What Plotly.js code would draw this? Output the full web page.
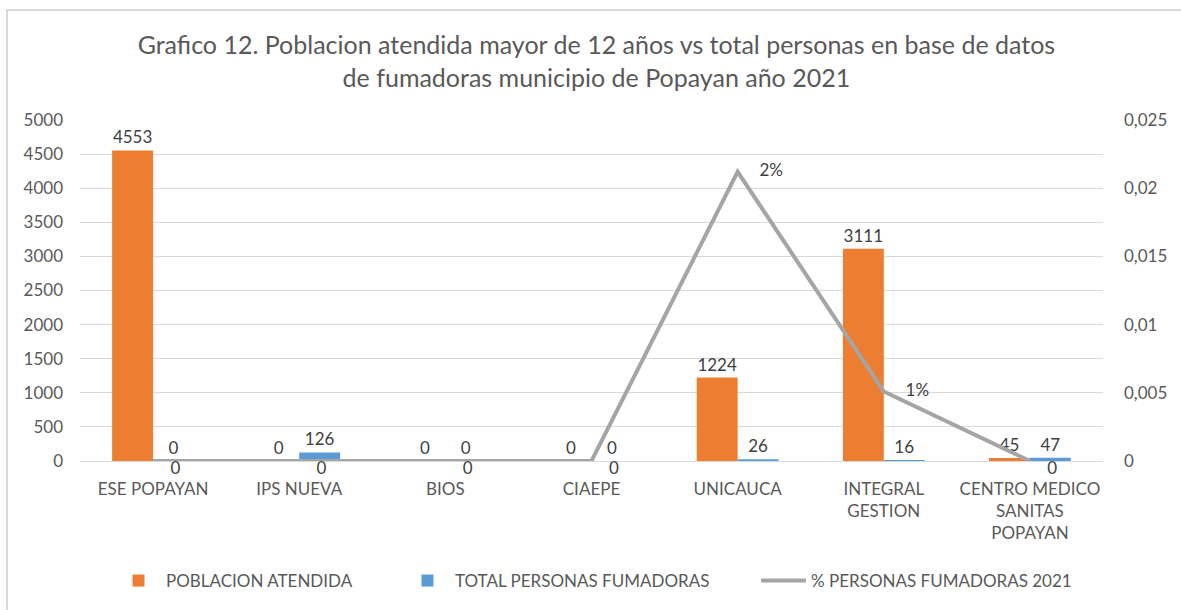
<!DOCTYPE html>
<html>
<head>
<meta charset="utf-8">
<script src="https://cdn.plot.ly/plotly-3.0.1.min.js"></script>
<style>
  html, body { margin: 0; padding: 0; background: #ffffff; }
  #frame { position: absolute; left: 6px; top: 9px; width: 1300px; height: 700px; border: 2px solid #d9d9d9; box-sizing: border-box; }
  #chart { position: absolute; left: 0; top: 0; width: 1181px; height: 610px; }
</style>
</head>
<body>
<div id="frame"></div>
<div id="chart"></div>
<script>
const categories = ['ESE POPAYAN', 'IPS NUEVA', 'BIOS', 'CIAEPE', 'UNICAUCA', 'INTEGRAL<br>GESTION', 'CENTRO MEDICO<br>SANITAS<br>POPAYAN'];
const poblacionAtendida = [4553, 0, 0, 0, 1224, 3111, 45];
const totalFumadoras = [0, 126, 0, 0, 26, 16, 47];
const pctFumadoras = [0, 0, 0, 0, 0.0212, 0.0051, 0];
const pctLabels = ['0', '0', '0', '0', '2%', '1%', '0'];
const leftTicks = [0, 500, 1000, 1500, 2000, 2500, 3000, 3500, 4000, 4500, 5000];
const rightTickVals = [0, 0.005, 0.01, 0.015, 0.02, 0.025];
const rightTickText = ['0', '0,005', '0,01', '0,015', '0,02', '0,025'];

const FONT = 'Lato, "Open Sans", sans-serif';
const GRAY = '#595959';
const LABEL = '#404040';
const FS = 17;
const NB = '\u00a0';

const traces = [
  {
    type: 'bar', name: 'POBLACION ATENDIDA', x: categories, y: poblacionAtendida,
    marker: { color: '#ed7d31' }, legend: 'legend',
    text: poblacionAtendida.map(String), textposition: 'outside', cliponaxis: false,
    textfont: { family: FONT, size: FS, color: LABEL },
    hoverinfo: 'x+y'
  },
  {
    type: 'bar', name: 'TOTAL PERSONAS FUMADORAS', x: categories, y: totalFumadoras,
    marker: { color: '#5b9bd5' }, legend: 'legend2',
    text: totalFumadoras.map(String), textposition: 'outside', cliponaxis: false,
    textfont: { family: FONT, size: FS, color: LABEL },
    hoverinfo: 'x+y'
  },
  {
    type: 'scatter', mode: 'lines+text', name: '% PERSONAS FUMADORAS 2021',
    x: categories, y: pctFumadoras, yaxis: 'y2', legend: 'legend3',
    line: { color: '#a5a5a5', width: 4 },
    text: pctLabels.map(t => (t === '0' ? NB.repeat(4) : NB.repeat(5)) + t),
    textposition: pctLabels.map(t => t === '0' ? 'bottom right' : 'middle right'),
    textfont: { family: FONT, size: FS, color: LABEL },
    cliponaxis: false
  }
];

function legendAt(px) {
  return {
    orientation: 'h', xref: 'container', yref: 'container',
    x: px / 1181, xanchor: 'left', y: 1 - 581 / 610, yanchor: 'middle',
    font: { family: FONT, size: FS, color: GRAY }, itemwidth: 45,
    bgcolor: 'rgba(0,0,0,0)'
  };
}

const layout = {
  width: 1181, height: 610,
  paper_bgcolor: 'rgba(0,0,0,0)', plot_bgcolor: 'rgba(0,0,0,0)',
  margin: { l: 80, r: 78, t: 120, b: 149, autoexpand: false },
  font: { family: FONT, size: FS, color: GRAY },
  title: {
    text: 'Grafico 12. Poblacion atendida mayor de 12 años vs total personas en base de datos<br>de fumadoras municipio de Popayan año 2021',
    font: { family: FONT, size: 25, color: GRAY },
    x: 0.505, xanchor: 'center', y: 0.911, yanchor: 'top'
  },
  barmode: 'group', bargap: 0.44, bargroupgap: 0,
  xaxis: {
    type: 'category', showgrid: false, zeroline: false, showline: false, ticks: '',
    ticklabelstandoff: 16,
    tickfont: { family: FONT, size: FS, color: GRAY }, tickangle: 0
  },
  yaxis: {
    range: [0, 5000], tickvals: leftTicks, ticktext: leftTicks.map(String),
    showgrid: true, gridcolor: '#d9d9d9', gridwidth: 1,
    zeroline: true, zerolinecolor: '#d9d9d9', zerolinewidth: 1,
    showline: false, ticks: '', ticklabelstandoff: 16,
    tickfont: { family: FONT, size: FS, color: GRAY }
  },
  yaxis2: {
    overlaying: 'y', side: 'right', range: [0, 0.025],
    tickvals: rightTickVals, ticktext: rightTickText,
    showgrid: false, zeroline: false, showline: false, ticks: '', ticklabelstandoff: 20,
    tickfont: { family: FONT, size: FS, color: GRAY }
  },
  showlegend: true,
  legend: legendAt(111),
  legend2: legendAt(400),
  legend3: legendAt(756)
};

Plotly.newPlot('chart', traces, layout, { displayModeBar: false, staticPlot: true });
</script>
</body>
</html>
